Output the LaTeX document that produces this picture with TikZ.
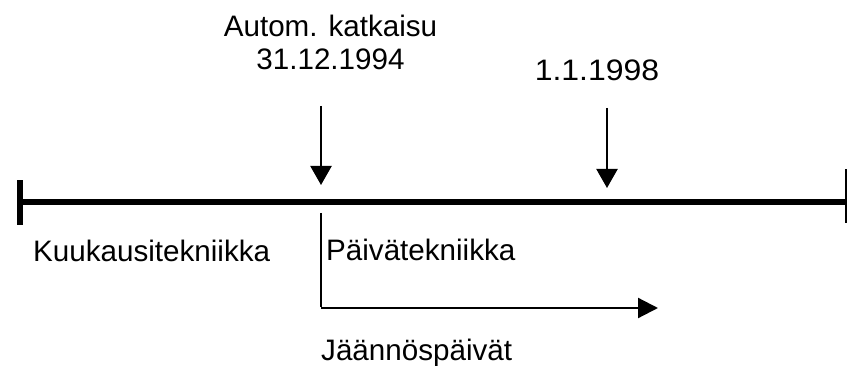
\documentclass[tikz,border=0pt]{standalone}
\usepackage{fontspec}
\setmainfont{Liberation Sans}
\usetikzlibrary{arrows.meta}
\begin{document}
\begin{tikzpicture}[x=1pt,y=-1pt,
  lbl/.style={inner sep=0pt,font=\fontsize{29.6}{31}\selectfont},
  arr/.style={line width=2.2pt,-{Triangle[length=19pt,width=21pt]}},
  axis/.style={line width=5.5pt}]
\useasboundingbox (0,0) rectangle (847,366);
% labels
\node[lbl,anchor=base] (autom) at (330.5,36.5) {Autom. katkaisu};
\node[lbl,anchor=base] (date1) at (330.5,70) {31.12.1994};
\node[lbl,anchor=base,xscale=1.08] (date2) at (597,81) {1.1.1998};
\node[lbl,anchor=base west] (kuuk) at (33,262) {Kuukausitekniikka};
\node[lbl,anchor=base west] (paiv) at (326,261) {Päivätekniikka};
\node[lbl,anchor=base west] (jaan) at (321,361) {Jäännöspäivät};
% coordinates
\coordinate (L) at (20,202);
\coordinate (R) at (845.5,202);
\coordinate (a1s) at (321,106);
\coordinate (a1e) at (321,185);
\coordinate (a2s) at (607,108);
\coordinate (a2e) at (607,188);
\coordinate (vs) at (321,213);
\coordinate (vc) at (321,308);
\coordinate (he) at (658,308);
% axis
\draw[axis] (L) -- (R);
\draw[line width=6pt] ([yshift=-23pt]L) -- ([yshift=22pt]L);
\draw[line width=2pt] ([yshift=-21pt]R) -- ([yshift=33pt]R);
% arrows
\draw[arr] (a1s) -- (a1e);
\draw[arr] (a2s) -- (a2e);
\draw[line width=2.2pt] (vs) -- ([yshift=1pt]vc);
\draw[line width=2.2pt,-{Triangle[length=20pt,width=20pt]}] (vc) -- (he);
\end{tikzpicture}
\end{document}
